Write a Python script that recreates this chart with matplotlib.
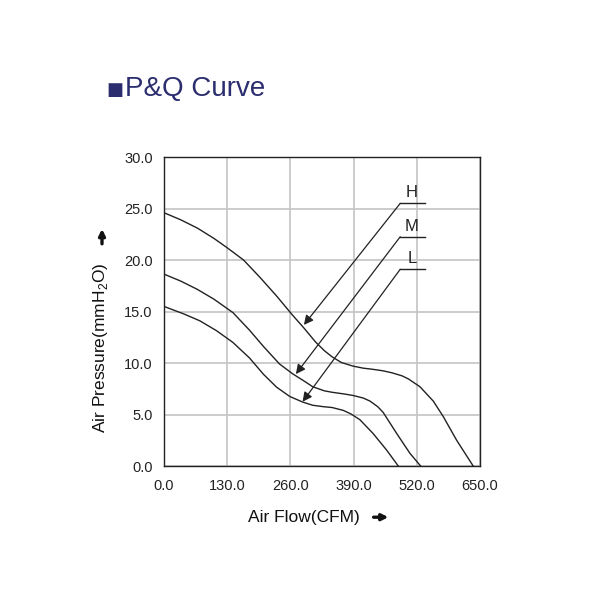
import matplotlib.pyplot as plt
from matplotlib.patches import FancyArrowPatch

plt.rcParams['font.family'] = ['Liberation Sans', 'DejaVu Sans']

# P&Q curves (CFM, mmH2O)
h_flow = [0, 35, 69, 103, 130, 164, 198, 232, 263, 288, 312, 330, 346, 365, 389, 410, 428, 450, 469, 490, 503, 526.5, 554, 574.5, 602, 636]
h_pres = [24.6, 23.9, 23.1, 22.1, 21.2, 20.0, 18.3, 16.5, 14.74, 13.4, 12.04, 11.2, 10.6, 10.05, 9.7, 9.5, 9.4, 9.25, 9.05, 8.75, 8.45, 7.7, 6.3, 4.8, 2.5, 0.0]

m_flow = [0, 35, 69, 103, 142, 176, 205, 238, 265, 290, 306, 330, 346, 370, 389, 410, 424, 440, 451, 478.6, 506, 528]
m_pres = [18.64, 17.95, 17.15, 16.2, 14.9, 13.2, 11.6, 9.9, 8.95, 8.2, 7.7, 7.3, 7.16, 7.0, 6.85, 6.6, 6.3, 5.75, 5.2, 3.17, 1.23, 0.0]

l_flow = [0, 41, 74, 108, 142, 176, 205, 232, 259, 286, 306, 328, 346, 369, 385, 403, 430, 458, 482]
l_pres = [15.5, 14.77, 14.1, 13.15, 12.0, 10.5, 8.9, 7.65, 6.75, 6.2, 5.9, 5.76, 5.68, 5.4, 5.05, 4.5, 3.17, 1.55, 0.0]

labels = ['H', 'M', 'L']
label_y = [25.5, 22.26, 19.1]
tip_x = [288, 271.5, 285.3]
tip_y = [13.7, 8.93, 6.24]

x_ticks = [0, 130, 260, 390, 520, 650]
y_ticks = [0, 5, 10, 15, 20, 25, 30]

navy = '#2b2d6e'
ink = '#222222'

fig = plt.figure(figsize=(6, 6), dpi=100)
ax = fig.add_axes([0.273, 0.2233, 0.527, 0.515])

for xs, ys in [(h_flow, h_pres), (m_flow, m_pres), (l_flow, l_pres)]:
    ax.plot(xs, ys, color=ink, lw=1.0, solid_joinstyle='round')

# leader lines with arrows
for lab, ly, tx, ty in zip(labels, label_y, tip_x, tip_y):
    ax.plot([486, 537], [ly, ly], color=ink, lw=1.0)
    ax.annotate('', xy=(tx, ty), xytext=(486, ly),
                arrowprops=dict(arrowstyle='-|>', color=ink, lw=0.9,
                                mutation_scale=14, shrinkA=0, shrinkB=0))
    ax.text(510, ly + 0.3, lab, ha='center', va='bottom', fontsize=12, color=ink)

ax.set_xlim(0, 650)
ax.set_ylim(0, 30)
ax.set_xticks(x_ticks)
ax.set_yticks(y_ticks)
ax.set_xticklabels(['%.1f' % v for v in x_ticks])
ax.set_yticklabels(['%.1f' % v for v in y_ticks])
ax.tick_params(length=0, labelsize=10.5, colors=ink)
ax.tick_params(axis='x', pad=9)
ax.tick_params(axis='y', pad=8)
ax.grid(True, color='#c4c4c4', lw=1.2)
ax.set_axisbelow(True)
for s in ax.spines.values():
    s.set_color(ink)
    s.set_linewidth(1.0)

# title
fig.text(0.178, 0.85, '\u25a0', fontsize=13, color=navy, va='center', ha='left',
         family='DejaVu Sans')
fig.text(0.209, 0.851, 'P&Q Curve', fontsize=20, color=navy, va='center', ha='left')

# axis labels with arrows
fig.text(0.506, 0.138, 'Air Flow(CFM)', fontsize=12.5, color='#111111', ha='center', va='center')
fig.add_artist(FancyArrowPatch((0.618, 0.138), (0.652, 0.138), transform=fig.transFigure,
                               arrowstyle='-|>', mutation_scale=9, lw=2.4, color='#111111'))

fig.text(0.168, 0.42, 'Air Pressure(mmH$_\\mathregular{2}$O)', fontsize=12.5, color='#111111',
         rotation=90, ha='center', va='center')
fig.add_artist(FancyArrowPatch((0.17, 0.589), (0.17, 0.623), transform=fig.transFigure,
                               arrowstyle='-|>', mutation_scale=9, lw=2.4, color='#111111'))

fig.savefig('out.png', dpi=100)
